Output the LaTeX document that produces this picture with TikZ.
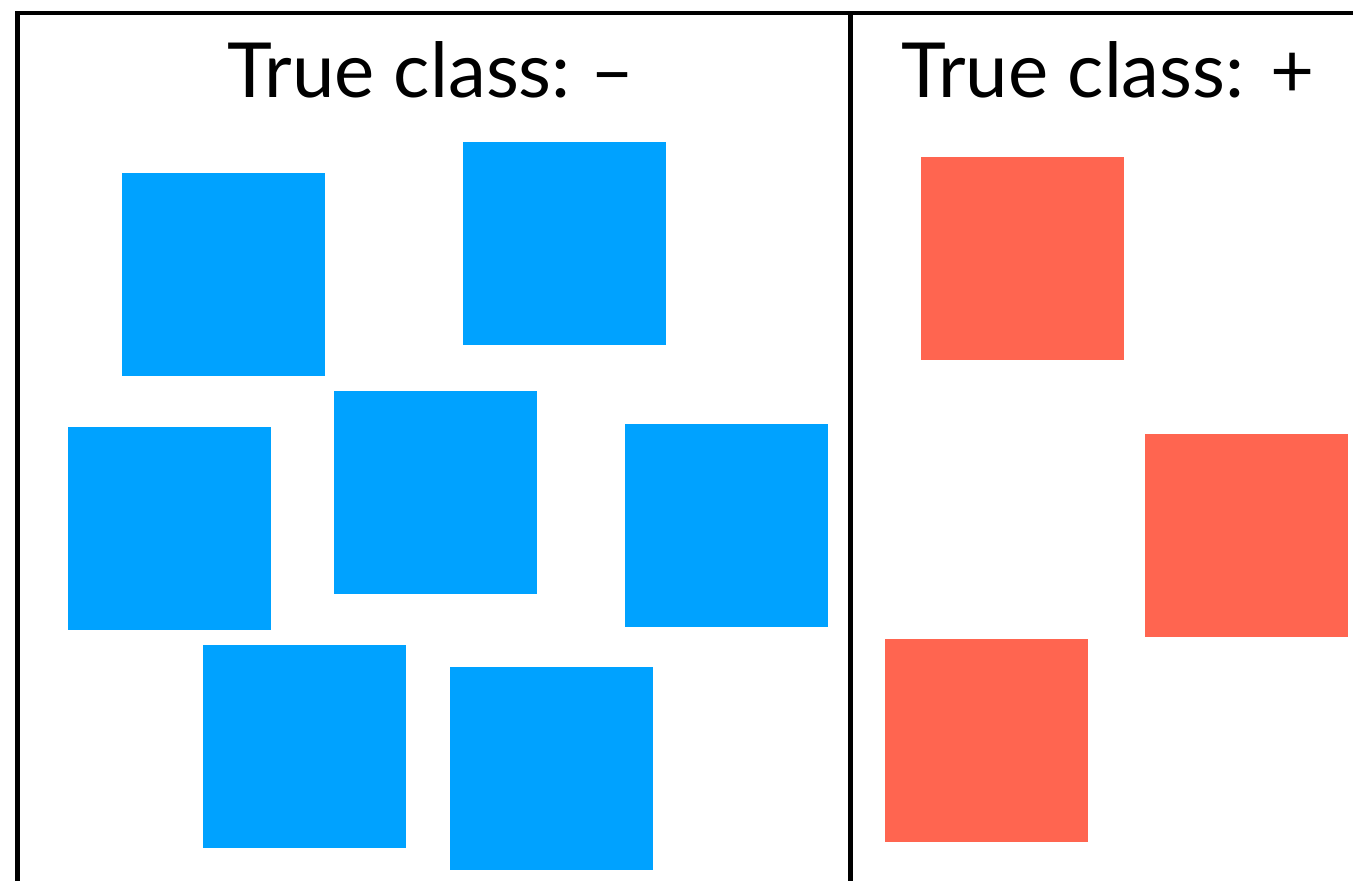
\documentclass[tikz,border=0pt]{standalone}
\usepackage{fontspec}
\setmainfont{Lato}
\definecolor{negblue}{HTML}{00A2FF}
\definecolor{posred}{HTML}{FF6550}
\begin{document}
\begin{tikzpicture}[x=1pt,y=-1pt,
  sqbox/.style={minimum width=203pt,minimum height=203pt,inner sep=0pt,outer sep=0pt,anchor=north west},
  negbox/.style={sqbox,fill=negblue},
  posbox/.style={sqbox,fill=posred},
  framebox/.style={line width=4.5pt},
  titlebox/.style={anchor=base,font=\fontsize{76}{90}\selectfont,inner sep=0pt}]
\useasboundingbox (0,0) rectangle (1353,881);
\coordinate (tl) at (17.5,13);
\coordinate (bl) at (17.5,885);
\coordinate (tm) at (850.5,13);
\coordinate (bm) at (850.5,885);
\coordinate (tr) at (1356,13);
\draw[framebox] (bl) -- (tl) -- (tr);
\draw[framebox] (tm) -- (bm);
\node[titlebox] (tneg) at (431,97) {True class:~–};
\node[titlebox] (tpos) at (1108,97) {True class: +};
\node[negbox] (b1) at (122,173) {};
\node[negbox] (b2) at (463,142) {};
\node[negbox] (b3) at (68,427) {};
\node[negbox] (b4) at (334,391) {};
\node[negbox] (b5) at (625,424) {};
\node[negbox] (b6) at (203,645) {};
\node[negbox] (b7) at (450,667) {};
\node[posbox] (r1) at (921,157) {};
\node[posbox] (r2) at (1145,434) {};
\node[posbox] (r3) at (885,639) {};
\end{tikzpicture}
\end{document}
